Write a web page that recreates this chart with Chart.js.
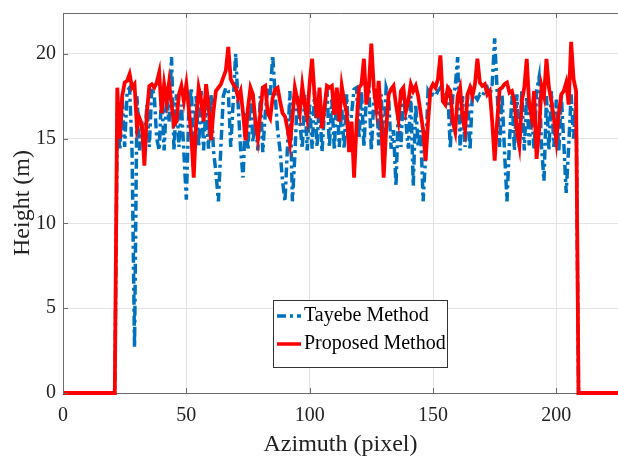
<!DOCTYPE html>
<html>
<head>
<meta charset="utf-8">
<script src="https://cdn.jsdelivr.net/npm/chart.js@4.4.1/dist/chart.umd.min.js"></script>
<style>
  html, body { margin: 0; padding: 0; background: #fff; }
  #wrap { width: 618px; height: 457px; }
</style>
</head>
<body>
<div id="wrap"><canvas id="heightChart" width="618" height="457"></canvas></div>
<script>
// Height estimates per azimuth pixel (0..225)
const proposed = [
  0, 0, 0, 0, 0, 0, 0, 0, 0, 0, 0, 0, 0, 0, 0, 0, 0, 0, 0, 0, 0, 0,
  18.0, 15.0, 17.5, 18.3, 18.4, 18.8, 18.0, 18.2, 15.6, 16.2,
  15.8, 13.4, 16.5, 18.1, 18.2, 18.0, 18.3, 18.9, 16.5, 18.2,
  17.2, 18.3, 17.0, 15.8, 16.0, 17.6, 18.1, 17.2, 18.2, 16.8,
  15.2, 12.7, 16.0, 18.0, 17.3, 16.0, 18.2, 17.0, 14.9, 16.6,
  17.8, 18.0, 18.2, 18.6, 19.0, 20.4, 18.5, 18.2, 18.0, 17.4,
  17.8, 16.5, 14.9, 16.8, 18.0, 17.6, 16.0, 15.0, 16.5, 18.0,
  18.1, 16.5, 16.2, 17.4, 17.9, 18.0, 17.2, 16.5, 16.3, 15.6,
  14.7, 16.2, 18.0, 17.3, 16.5, 18.1, 17.0, 16.2, 18.3, 19.7,
  17.5, 16.2, 18.0, 15.6, 16.8, 18.1, 18.0, 18.1, 16.4, 18.0,
  16.0, 18.1, 17.2, 16.5, 14.2, 16.0, 12.7, 15.8, 18.0, 18.2,
  19.7, 17.0, 18.1, 20.6, 18.0, 16.8, 18.4, 16.0, 12.7, 15.5,
  17.6, 17.9, 18.1, 17.0, 16.1, 17.8, 18.0, 16.6, 17.2, 18.2,
  17.8, 18.1, 17.5, 16.5, 15.5, 13.7, 16.0, 17.9, 18.2, 18.0,
  18.5, 19.9, 17.2, 17.0, 18.0, 17.8, 16.0, 15.4, 17.5, 18.0,
  16.2, 15.5, 17.6, 18.0, 17.5, 18.2, 19.7, 18.3, 18.1, 18.2,
  17.6, 17.8, 16.0, 13.7, 16.0, 17.9, 18.0, 18.2, 18.3, 17.7,
  17.8, 17.2, 15.5, 14.6, 17.2, 18.0, 19.7, 17.0, 16.2, 17.8,
  13.8, 15.5, 18.1, 17.5, 19.7, 18.0, 17.2, 16.2, 14.9, 16.5,
  17.6, 17.8, 18.3, 17.0, 20.7, 18.5, 17.8,
  0, 0, 0, 0, 0, 0, 0, 0, 0, 0, 0, 0, 0, 0, 0, 0, 0
];

const tayebe = [
  0, 0, 0, 0, 0, 0, 0, 0, 0, 0, 0, 0, 0, 0, 0, 0, 0, 0, 0, 0, 0, 0,
  16.5, 14.3, 17.3, 14.5, 17.8, 18.0, 14.2, 2.7, 17.5, 14.3,
  16.0, 14.5, 17.0, 14.5, 18.0, 17.5, 15.0, 14.3, 17.8, 14.3,
  17.5, 16.0, 19.8, 14.3, 17.6, 14.5, 17.0, 14.2, 11.4, 16.5,
  18.0, 14.3, 17.5, 14.5, 17.8, 14.3, 17.0, 14.4, 17.6, 14.3,
  13.0, 11.3, 14.5, 17.5, 18.0, 17.8, 14.5, 17.2, 20.0, 17.0,
  14.4, 12.7, 16.5, 14.3, 17.8, 14.8, 16.0, 14.3, 17.5, 14.2,
  16.5, 18.0, 17.5, 19.9, 17.6, 15.5, 14.3, 12.5, 11.3, 14.5,
  17.8, 11.3, 14.0, 17.5, 16.0, 14.4, 17.6, 14.3, 17.0, 14.4,
  17.8, 14.5, 17.5, 14.2, 16.6, 18.0, 14.5, 17.3, 14.3, 17.8,
  14.5, 16.8, 14.4, 17.6, 14.3, 16.5, 17.9, 18.0, 15.0, 17.8,
  14.5, 17.5, 18.1, 14.3, 17.2, 18.0, 14.6, 17.6, 14.3, 18.0,
  17.5, 14.4, 15.5, 12.2, 17.0, 14.5, 17.8, 16.0, 14.4, 17.5,
  12.2, 17.0, 14.5, 15.5, 11.3, 14.0, 17.8, 17.5, 17.6, 17.5,
  17.8, 18.0, 17.6, 17.5, 17.8, 14.4, 17.5, 18.0, 19.8, 14.3,
  17.5, 14.5, 17.6, 14.3, 17.8, 17.5, 17.3, 17.6, 17.5, 17.8,
  18.0, 17.5, 18.2, 20.9, 17.8, 14.5, 17.6, 14.2, 11.3, 14.8,
  17.5, 14.3, 17.6, 14.5, 17.8, 14.3, 17.5, 14.6, 16.5, 14.3,
  17.8, 18.6, 14.5, 12.5, 17.5, 14.3, 17.8, 14.5, 17.3, 14.2,
  17.6, 14.8, 11.8, 14.5, 17.6, 15.0, 17.5,
  0, 0, 0, 0, 0, 0, 0, 0, 0, 0, 0, 0, 0, 0, 0, 0, 0
];

const xTicks = [0, 50, 100, 150, 200];
const yTicks = [0, 5, 10, 15, 20];

const blue = '#0072BD';
const red = '#FF0000';
const serif = '"Liberation Serif", "DejaVu Serif", serif';

const toPoints = (arr) => arr.map((v, i) => ({ x: i, y: v }));

// MATLAB style: inward ticks, top box edge, legend box inside the axes
const boxPlugin = {
  id: 'matlabBox',
  afterDraw(chart) {
    const { ctx, chartArea: a, scales } = chart;
    ctx.save();
    ctx.strokeStyle = '#6b6b6b';
    ctx.lineWidth = 1;
    ctx.beginPath();
    ctx.moveTo(a.left, a.top + 0.5);
    ctx.lineTo(a.right, a.top + 0.5);
    xTicks.forEach((t) => {
      const px = Math.round(scales.x.getPixelForValue(t)) + 0.5;
      ctx.moveTo(px, a.bottom);
      ctx.lineTo(px, a.bottom - 5);
      ctx.moveTo(px, a.top);
      ctx.lineTo(px, a.top + 5);
    });
    yTicks.forEach((t) => {
      const py = Math.round(scales.y.getPixelForValue(t)) + 0.5;
      ctx.moveTo(a.left, py);
      ctx.lineTo(a.left + 5, py);
    });
    ctx.stroke();

    // legend
    const lx = 273.5, ly = 300.5, lw = 174, lh = 67;
    ctx.fillStyle = '#fff';
    ctx.fillRect(lx, ly, lw, lh);
    ctx.strokeStyle = '#333';
    ctx.strokeRect(lx, ly, lw, lh);
    const items = [
      { label: 'Tayebe Method', color: blue, dash: [9, 4, 3, 4], y: 316 },
      { label: 'Proposed Method', color: red, dash: [], y: 344 },
    ];
    ctx.font = '20px ' + serif;
    ctx.textBaseline = 'middle';
    items.forEach((it) => {
      ctx.strokeStyle = it.color;
      ctx.lineWidth = 3.5;
      ctx.setLineDash(it.dash);
      ctx.beginPath();
      ctx.moveTo(277, it.y);
      ctx.lineTo(301, it.y);
      ctx.stroke();
      ctx.setLineDash([]);
      ctx.fillStyle = '#000';
      ctx.fillText(it.label, 304, it.y);
    });
    ctx.restore();
  },
};

new Chart(document.getElementById('heightChart'), {
  type: 'line',
  data: {
    datasets: [
      {
        label: 'Proposed Method',
        data: toPoints(proposed),
        borderColor: red,
        borderWidth: 3.8,
        pointRadius: 0,
        clip: false,
        order: 0,
      },
      {
        label: 'Tayebe Method',
        data: toPoints(tayebe),
        borderColor: blue,
        borderWidth: 3.5,
        borderDash: [10, 4, 3, 4],
        pointRadius: 0,
        clip: false,
        order: 1,
      },
    ],
  },
  options: {
    responsive: false,
    animation: false,
    layout: { padding: { top: 13, right: 0, left: 0, bottom: 0 } },
    plugins: { legend: { display: false }, tooltip: { enabled: false } },
    scales: {
      x: {
        type: 'linear',
        min: 0,
        max: 225,
        afterBuildTicks: (s) => { s.ticks = xTicks.map((v) => ({ value: v })); },
        afterFit: (s) => { s.height = 64; s.paddingLeft = 0; s.paddingRight = 0; },
        grid: { color: '#e3e3e3', drawTicks: false },
        border: { color: '#6b6b6b' },
        ticks: { padding: 11, color: '#222', font: { family: serif, size: 20 } },
        title: {
          display: true,
          text: 'Azimuth (pixel)',
          color: '#222',
          font: { family: serif, size: 24 },
          padding: { top: 0, bottom: -2 },
        },
      },
      y: {
        min: 0,
        max: 22.4,
        afterBuildTicks: (s) => { s.ticks = yTicks.map((v) => ({ value: v })); },
        afterFit: (s) => { s.width = 63; s.paddingTop = 0; s.paddingBottom = 0; },
        grid: { color: '#e3e3e3', drawTicks: false },
        border: { color: '#6b6b6b' },
        ticks: { padding: 7, color: '#222', font: { family: serif, size: 20 } },
        title: {
          display: true,
          text: 'Height (m)',
          color: '#222',
          font: { family: serif, size: 24 },
          padding: { top: 8, bottom: 0 },
        },
      },
    },
  },
  plugins: [boxPlugin],
});
</script>
</body>
</html>
